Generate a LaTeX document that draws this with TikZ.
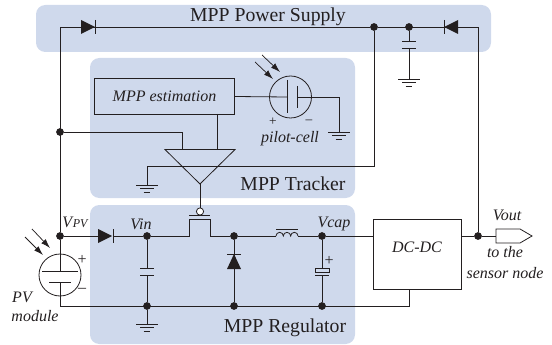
\documentclass[tikz,border=0pt]{standalone}
\usepackage{fontspec}
\setmainfont{Liberation Serif}
\usetikzlibrary{arrows.meta}
\definecolor{bandblue}{HTML}{CFD9EC}
\definecolor{wirecol}{HTML}{231F20}
\tikzset{
  band/.style={fill=bandblue,rounded corners=7pt},
  wire/.style={draw=wirecol,line width=.6pt},
  dot/.style={circle,fill=wirecol,inner sep=0pt,minimum size=5.8pt},
  blockbox/.style={draw=wirecol,line width=.65pt,inner sep=0pt},
  ray/.style={draw=wirecol,line width=.55pt,-{Latex[length=7pt,width=4.5pt]}},
  title/.style={font=\fontsize{14.8}{16}\selectfont,text=wirecol,inner sep=0pt},
  lab/.style={font=\fontsize{12}{14}\selectfont\itshape,text=wirecol,inner sep=0pt},
  sign/.style={font=\fontsize{10}{11}\selectfont,text=wirecol,inner sep=0pt},
}
% three strokes of a ground, hung under a named point
\newcommand{\earth}[1]{
  \draw[wire] ([xshift=-8pt]#1) -- ([xshift=8pt]#1);
  \draw[wire] ([xshift=-5pt,yshift=-2.6pt]#1) -- ([xshift=5pt,yshift=-2.6pt]#1);
  \draw[wire] ([xshift=-2.6pt,yshift=-5.2pt]#1) -- ([xshift=2.6pt,yshift=-5.2pt]#1);
}
\begin{document}
\begin{tikzpicture}[x=.75pt,y=-.75pt]
\useasboundingbox (0,0) rectangle (552,345);

% bands
\fill[band] (36,5) rectangle (491,52);
\fill[band] (90,58) rectangle (355,198);
\fill[band] (90,205) rectangle (355,344);

\node[title] (supply)  at (268,17)  {MPP Power Supply};
\node[title] (tracker) at (293,184) {MPP Tracker};
\node[title] (regul)   at (285,328) {MPP Regulator};

% blocks
\node[blockbox,minimum width=104.5pt,minimum height=26.5pt,lab] (est) at (164.5,96.5) {MPP estimation};
\node[blockbox,minimum width=65.5pt,minimum height=52.5pt] (dcdc) at (417.5,254) {};
\node[lab] (dcdctxt) at (417,247) {DC-DC};
\node[circle,draw=wirecol,line width=.6pt,minimum size=31.5pt,inner sep=0pt] (cell) at (290.5,97) {};
\node[circle,draw=wirecol,line width=.6pt,minimum size=31.5pt,inner sep=0pt] (pv) at (60,275) {};

% junctions
\node[dot] (d1) at (60,132) {};
\node[dot] (d2) at (60,236) {};
\node[dot] (d3) at (147,236) {};
\node[dot] (d4) at (234,236) {};
\node[dot] (d5) at (322,236) {};
\node[dot] (d6) at (478,236) {};
\node[dot] (d7) at (374,27) {};
\node[dot] (d8) at (409,27) {};
\node[dot] (d9) at (147,306) {};
\node[dot] (d10) at (234,306) {};
\node[dot] (d11) at (322,306) {};

\coordinate (tl) at (60,27);
\coordinate (tr) at (478,27);
\coordinate (bl) at (60,306);
\coordinate (br) at (409,306);
\coordinate (dcb) at (409,289);
\coordinate (tip) at (200,184);
\coordinate (pmid) at (496,236);

% top rail
\draw[wire] (d2) -- (tl) -- (d7) -- (tr) -- (d6);
\fill[wirecol] (81,20) -- (95,27) -- (81,34) -- cycle;
\draw[wire] (95,20) -- (95,34);
\fill[wirecol] (458,20) -- (444,27) -- (458,34) -- cycle;
\draw[wire] (444,20) -- (444,34);

% supply capacitor
\coordinate (gs) at (409,79);
\draw[wire] (d8) -- (409,41) (409,48) -- (gs);
\draw[wire] (402,41) -- (416,41) (402,48) -- (416,48);
\earth{gs}

% pilot cell
\draw[wire] (est.east) -- (287,97);
\draw[wire] (287,80) -- (287,113);
\draw[wire] (297,86) -- (297,108);
\draw[wire] (297,97) -- (339,97) -- (339,132);
\coordinate (gc) at (339,132);
\earth{gc}
\draw[ray] (255,62) -- (273,79);
\draw[ray] (262,55) -- (280,72);
\node[sign] (cplus)  at (273,122) {+};
\node[sign] (cminus) at (309,122) {--};
\node[lab] (pilot)  at (290,139) {pilot-cell};

% comparator
\draw[wire] (165,149.5) -- (235,149.5) -- (tip) -- cycle;
\draw[wire] (d1) -- (182,132) -- (182,149.5);
\draw[wire] (217,114) -- (217,149.5);
\draw[wire] (d7) -- (374,166) -- (147,166) -- (147,185);
\coordinate (gt) at (147,185);
\earth{gt}

% mosfet
\node[circle,draw=wirecol,line width=.6pt,fill=white,inner sep=0pt,minimum size=5.4pt] (bub) at (200,211.5) {};
\draw[wire] (tip) -- (bub);
\draw[wire] (189,215) -- (210,215);
\draw[wire] (d3) -- (189,236) -- (189,219) -- (210,219) -- (210,236) -- (d4);

% regulator line
\draw[wire] (d2) -- (98,236);
\fill[wirecol] (98,229) -- (112,236) -- (98,243) -- cycle;
\draw[wire] (113,229) -- (113,243);
\draw[wire] (113,236) -- (d3);
\draw[wire] (d4) -- (276,236);
\draw[wire] (276,236) arc (180:0:2.75pt) arc (180:0:2.75pt) arc (180:0:2.75pt);
\draw[wire] (276,229) -- (298,229);
\draw[wire] (298,236) -- (d5);
\draw[wire] (d5) -- (dcdc.west |- d5);
\draw[wire] (dcdc.east |- d6) -- (d6) -- (pmid);

% output pin
\draw[wire,fill=white] (pmid) ++(0,-7) -- (520,229) -- (532,236) -- (520,243) -- (496,243) -- cycle;

% caps and the free-wheel diode
\draw[wire] (d3) -- (147,268) (147,275) -- (d9);
\draw[wire] (140,268) -- (154,268) (140,275) -- (154,275);
\draw[wire] (d10) -- (234,254);
\fill[wirecol] (234,254) -- (241,269) -- (227,269) -- cycle;
\draw[wire] (227,254) -- (241,254);
\draw[wire] (234,269) -- (d4);
\draw[wire] (d5) -- (322,268) (322,275) -- (d11);
\draw[wire] (315,268) rectangle (329,272);
\draw[wire] (315,275) -- (329,275);
\node[lab] (capplus) at (329,261) {+};

% bottom rail
\draw[wire] (pv.south) -- (bl) -- (br) -- (dcb);
\draw[wire] (d9) -- (147,324);
\coordinate (gr) at (147,324);
\earth{gr}

% pv module
\draw[wire] (d2) -- (60,271);
\draw[wire] (42,271) -- (78,271);
\draw[wire] (49,282) -- (71,282);
\draw[wire] (60,282) -- (bl);
\draw[ray] (32,229) -- (50,248);
\draw[ray] (25,237) -- (43,255);
\node[lab] (pvplus)  at (82,260) {+};
\node[lab] (pvminus) at (82,290) {--};

% labels
\node[lab] (vpv)  at (75,222) {V\kern.5pt{\fontsize{9}{10}\selectfont PV}};
\node[lab] (vin)  at (141,224) {Vin};
\node[lab] (vcap) at (334,224) {Vcap};
\node[lab] (vout) at (507,215) {Vout};
\node[lab] (pvl)  at (22,297) {PV};
\node[lab] (modl) at (35,316) {module};
\node[lab] (tothe) at (505,252) {to the};
\node[lab] (sens)  at (505,273) {sensor node};

\end{tikzpicture}
\end{document}
